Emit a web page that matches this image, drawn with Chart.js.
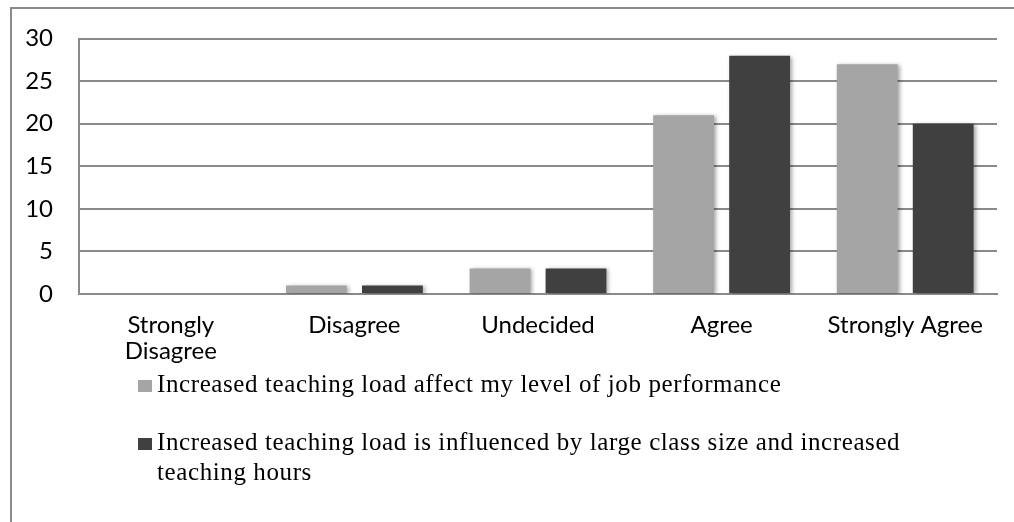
<!DOCTYPE html>
<html>
<head>
<meta charset="utf-8">
<script src="https://cdn.jsdelivr.net/npm/chart.js@4.4.1/dist/chart.umd.min.js"></script>
<style>
  html, body { margin: 0; padding: 0; background: #fff; overflow: hidden; }
  #wrap { position: relative; width: 1014px; height: 522px; overflow: hidden; }
  #frame { position: absolute; left: 10px; top: 7px; width: 1100px; height: 600px;
           border-left: 2px solid #8a8a8a; border-top: 2px solid #8a8a8a; box-sizing: border-box; }
  #c { position: absolute; left: 0; top: 0; }
  .leg { position: absolute; left: 138px; width: 840px;
         font-family: "Liberation Serif", "Times New Roman", serif; font-size: 25px;
         letter-spacing: 0.6px; line-height: 30px; color: #000; }
  .leg .sw { position: absolute; left: 0; top: 11px; width: 14px; height: 12px; }
  .leg .tx { display: block; margin-left: 19px; width: 790px; }
</style>
</head>
<body>
<div id="wrap">
  <div id="frame"></div>
  <canvas id="c" width="1014" height="522"></canvas>
  <div id="legend"></div>
</div>
<script>
const categories = [["Strongly", "Disagree"], "Disagree", "Undecided", "Agree", "Strongly Agree"];
const seriesNames = [
  "Increased teaching load affect my level of job performance",
  "Increased teaching load is influenced by large class size and increased teaching hours"
];
const seriesPerformance = [0, 1, 3, 21, 27];
const seriesClassSize = [0, 1, 3, 28, 20];
const seriesColors = ["#a5a5a5", "#404040"];
const yTickMin = 0, yTickMax = 30, yTickStep = 5;

const shadowPlugin = {
  id: 'barShadow',
  beforeDatasetsDraw(chart) {
    const ctx = chart.ctx;
    ctx.save();
    ctx.shadowColor = 'rgba(0,0,0,0.35)';
    ctx.shadowBlur = 4;
    ctx.shadowOffsetX = 2;
    ctx.shadowOffsetY = 1;
  },
  afterDatasetsDraw(chart) { chart.ctx.restore(); }
};

const tickFont = { family: "Lato, 'Open Sans', sans-serif", size: 24, lineHeight: 1.05 };

new Chart(document.getElementById('c'), {
  type: 'bar',
  data: {
    labels: categories,
    datasets: [
      { label: seriesNames[0], data: seriesPerformance, backgroundColor: seriesColors[0], borderWidth: 0 },
      { label: seriesNames[1], data: seriesClassSize, backgroundColor: seriesColors[1], borderWidth: 0 }
    ]
  },
  options: {
    responsive: false,
    animation: false,
    devicePixelRatio: 1,
    categoryPercentage: 0.828,
    barPercentage: 0.80,
    layout: { padding: { left: 0, top: 37, right: 17, bottom: 148 } },
    plugins: { legend: { display: false }, tooltip: { enabled: false } },
    scales: {
      x: {
        grid: { display: false, drawTicks: false },
        border: { display: true, color: '#8a8a8a', width: 2 },
        ticks: { color: '#000', font: tickFont, padding: 19, maxRotation: 0, autoSkip: false },
        afterFit(scale) { scale.height = 80; }
      },
      y: {
        min: yTickMin, max: yTickMax,
        grid: { color: '#8a8a8a', lineWidth: 2, drawTicks: false },
        border: { display: true, color: '#8a8a8a', width: 2 },
        ticks: { stepSize: yTickStep, color: '#000', font: tickFont, padding: 26 },
        afterFit(scale) { scale.width = 79; }
      }
    }
  },
  plugins: [shadowPlugin]
});

// HTML legend built from the series arrays
const legendTops = [369, 427];
const legend = document.getElementById('legend');
seriesNames.forEach((name, i) => {
  const item = document.createElement('div');
  item.className = 'leg';
  item.style.top = legendTops[i] + 'px';
  const sw = document.createElement('span');
  sw.className = 'sw';
  sw.style.background = seriesColors[i];
  const tx = document.createElement('span');
  tx.className = 'tx';
  tx.textContent = name;
  item.appendChild(sw);
  item.appendChild(tx);
  legend.appendChild(item);
});
</script>
</body>
</html>
